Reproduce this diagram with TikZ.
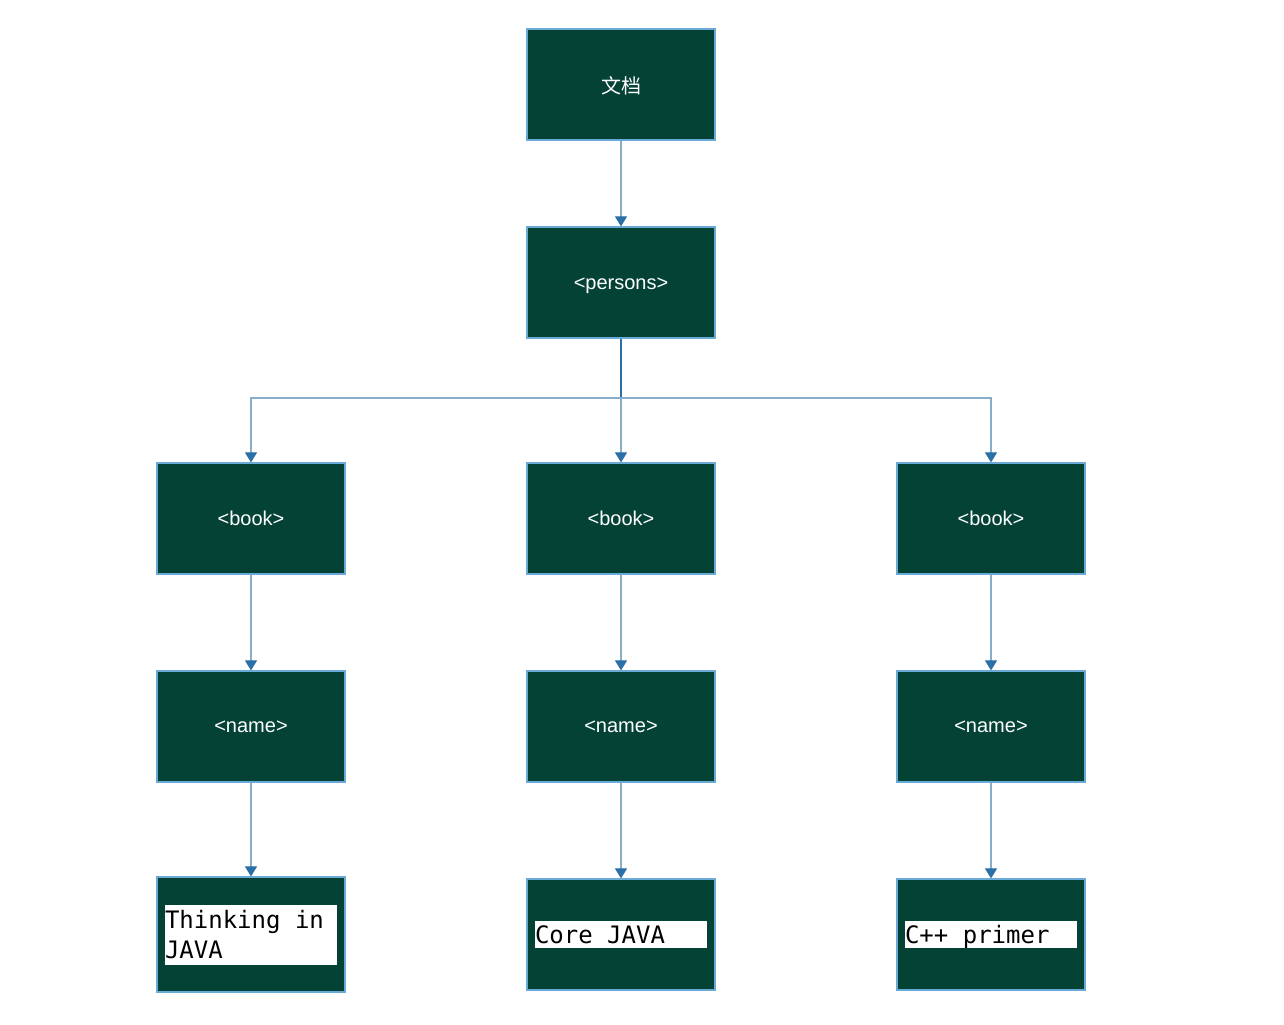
\documentclass[tikz,border=0pt]{standalone}
\usepackage{fontspec}
\setmainfont{Liberation Sans}
\newfontfamily\cjk{Noto Sans CJK SC}
\newfontfamily\monof{DejaVu Sans Mono}
\newcommand\monoset{\monof\fontsize{18}{22.5}\selectfont}
\newcommand\fixsp{\spaceskip=0.602em\relax\xspaceskip=0.602em\relax}
\usetikzlibrary{arrows.meta}
\definecolor{boxfill}{HTML}{034235}
\definecolor{boxline}{HTML}{6AAAD6}
\definecolor{conn}{HTML}{86AECB}
\definecolor{tipc}{HTML}{2A6FA8}
\begin{document}
\begin{tikzpicture}[x=0.75pt,y=-0.75pt,
  gbox/.style={draw=boxline,line width=0.9pt,fill=boxfill,minimum width=141pt,minimum height=83.25pt,inner sep=0pt,text=white,font=\fontsize{15}{17}\selectfont},
  wbox/.style={fill=white,text=black,inner sep=0pt,text width=129pt,align=left,font=\monoset},
  wsingle/.style={wbox,minimum height=20.25pt,text height=15.75pt,text depth=2.25pt},
  conn/.style={draw=conn,line width=0.8pt,-{Triangle[width=9pt,length=7.5pt,fill=tipc,color=tipc]}}]
\useasboundingbox (0,0) rectangle (1284,1024);
\node[gbox] (doc) at (621,84.5) {\cjk\fontsize{15}{17}\selectfont\raisebox{-1.2pt}[\height][\depth]{文档}};
\node[gbox] (persons) at (621,282.5) {\raisebox{-2.5pt}[\height][\depth]{<persons>}};
\node[gbox] (b1) at (251,518.5) {<book>};
\node[gbox] (b2) at (621,518.5) {<book>};
\node[gbox] (b3) at (991,518.5) {<book>};
\node[gbox] (n1) at (251,726.5) {<name>};
\node[gbox] (n2) at (621,726.5) {<name>};
\node[gbox] (n3) at (991,726.5) {<name>};
\node[gbox,minimum height=86.25pt] (l1) at (251,934.5) {};
\node[gbox] (l2) at (621,934.5) {};
\node[gbox] (l3) at (991,934.5) {};
\node[wbox,minimum height=45pt] (t1) at (251,935) {\fixsp Thinking in\\JAVA};
\node[wsingle] (t2) at (621,934.5) {\fixsp Core JAVA};
\node[wsingle] (t3) at (991,934.5) {\fixsp C++ primer};
\coordinate (j) at (621,398);
\draw[conn] (doc) -- (persons);
\draw[draw=tipc,line width=0.8pt] (persons.south) -- (j);
\draw[conn] (j) -| (b1.north);
\draw[conn] (j) -- (b2.north);
\draw[conn] (j) -| (b3.north);
\draw[conn] (b1) -- (n1);
\draw[conn] (b2) -- (n2);
\draw[conn] (b3) -- (n3);
\draw[conn] (n1) -- (l1);
\draw[conn] (n2) -- (l2);
\draw[conn] (n3) -- (l3);
\end{tikzpicture}
\end{document}
